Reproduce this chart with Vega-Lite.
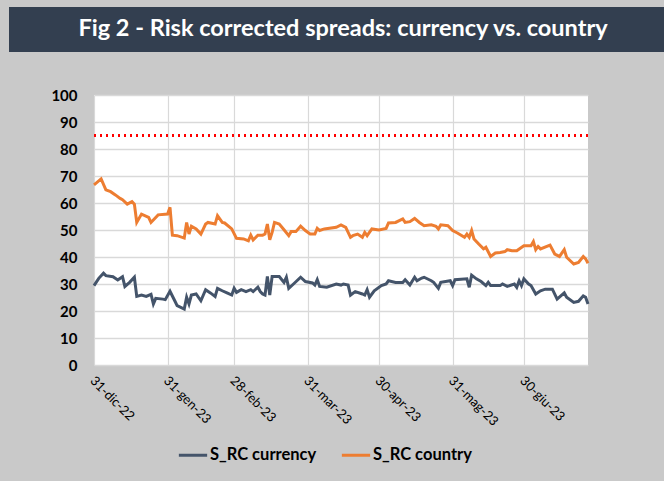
{
  "$schema": "https://vega.github.io/schema/vega-lite/v6.json",
  "background": "#c9c9c9",
  "padding": {"left": 9, "top": 7, "right": 0, "bottom": 19},
  "spacing": 36,
  "config": {"view": {"stroke": null}, "font": "Lato"},
  "datasets": {
    "rc": [
      {"date": "2022-12-31", "series": "S_RC country", "value": 66.7},
      {"date": "2023-01-03", "series": "S_RC country", "value": 68.9},
      {"date": "2023-01-05", "series": "S_RC country", "value": 64.9},
      {"date": "2023-01-07", "series": "S_RC country", "value": 64.2},
      {"date": "2023-01-09", "series": "S_RC country", "value": 63.0},
      {"date": "2023-01-11", "series": "S_RC country", "value": 61.7},
      {"date": "2023-01-12", "series": "S_RC country", "value": 61.2},
      {"date": "2023-01-14", "series": "S_RC country", "value": 59.6},
      {"date": "2023-01-16", "series": "S_RC country", "value": 60.5},
      {"date": "2023-01-17", "series": "S_RC country", "value": 59.6},
      {"date": "2023-01-18", "series": "S_RC country", "value": 52.8},
      {"date": "2023-01-20", "series": "S_RC country", "value": 55.9},
      {"date": "2023-01-23", "series": "S_RC country", "value": 54.7},
      {"date": "2023-01-24", "series": "S_RC country", "value": 52.8},
      {"date": "2023-01-27", "series": "S_RC country", "value": 55.6},
      {"date": "2023-01-31", "series": "S_RC country", "value": 55.9},
      {"date": "2023-02-01", "series": "S_RC country", "value": 58.4},
      {"date": "2023-02-02", "series": "S_RC country", "value": 48.1},
      {"date": "2023-02-04", "series": "S_RC country", "value": 47.9},
      {"date": "2023-02-07", "series": "S_RC country", "value": 47.0},
      {"date": "2023-02-08", "series": "S_RC country", "value": 52.8},
      {"date": "2023-02-09", "series": "S_RC country", "value": 48.5},
      {"date": "2023-02-10", "series": "S_RC country", "value": 51.4},
      {"date": "2023-02-12", "series": "S_RC country", "value": 50.4},
      {"date": "2023-02-14", "series": "S_RC country", "value": 48.5},
      {"date": "2023-02-16", "series": "S_RC country", "value": 52.2},
      {"date": "2023-02-17", "series": "S_RC country", "value": 52.8},
      {"date": "2023-02-20", "series": "S_RC country", "value": 52.2},
      {"date": "2023-02-21", "series": "S_RC country", "value": 55.3},
      {"date": "2023-02-23", "series": "S_RC country", "value": 52.8},
      {"date": "2023-02-24", "series": "S_RC country", "value": 52.6},
      {"date": "2023-02-27", "series": "S_RC country", "value": 50.4},
      {"date": "2023-03-01", "series": "S_RC country", "value": 46.9},
      {"date": "2023-03-04", "series": "S_RC country", "value": 46.7},
      {"date": "2023-03-06", "series": "S_RC country", "value": 46.0},
      {"date": "2023-03-07", "series": "S_RC country", "value": 48.1},
      {"date": "2023-03-08", "series": "S_RC country", "value": 46.3},
      {"date": "2023-03-10", "series": "S_RC country", "value": 48.1},
      {"date": "2023-03-12", "series": "S_RC country", "value": 48.1},
      {"date": "2023-03-13", "series": "S_RC country", "value": 48.5},
      {"date": "2023-03-14", "series": "S_RC country", "value": 52.2},
      {"date": "2023-03-15", "series": "S_RC country", "value": 46.4},
      {"date": "2023-03-16", "series": "S_RC country", "value": 49.1},
      {"date": "2023-03-17", "series": "S_RC country", "value": 52.8},
      {"date": "2023-03-19", "series": "S_RC country", "value": 52.2},
      {"date": "2023-03-21", "series": "S_RC country", "value": 50.1},
      {"date": "2023-03-23", "series": "S_RC country", "value": 47.9},
      {"date": "2023-03-24", "series": "S_RC country", "value": 49.4},
      {"date": "2023-03-26", "series": "S_RC country", "value": 49.4},
      {"date": "2023-03-28", "series": "S_RC country", "value": 51.4},
      {"date": "2023-03-30", "series": "S_RC country", "value": 49.8},
      {"date": "2023-04-01", "series": "S_RC country", "value": 48.5},
      {"date": "2023-04-03", "series": "S_RC country", "value": 48.5},
      {"date": "2023-04-04", "series": "S_RC country", "value": 50.6},
      {"date": "2023-04-05", "series": "S_RC country", "value": 49.8},
      {"date": "2023-04-07", "series": "S_RC country", "value": 50.4},
      {"date": "2023-04-12", "series": "S_RC country", "value": 51.0},
      {"date": "2023-04-14", "series": "S_RC country", "value": 51.9},
      {"date": "2023-04-16", "series": "S_RC country", "value": 51.0},
      {"date": "2023-04-18", "series": "S_RC country", "value": 47.3},
      {"date": "2023-04-19", "series": "S_RC country", "value": 47.9},
      {"date": "2023-04-21", "series": "S_RC country", "value": 48.5},
      {"date": "2023-04-23", "series": "S_RC country", "value": 47.3},
      {"date": "2023-04-24", "series": "S_RC country", "value": 49.1},
      {"date": "2023-04-25", "series": "S_RC country", "value": 47.9},
      {"date": "2023-04-27", "series": "S_RC country", "value": 50.4},
      {"date": "2023-04-30", "series": "S_RC country", "value": 50.0},
      {"date": "2023-05-03", "series": "S_RC country", "value": 50.6},
      {"date": "2023-05-04", "series": "S_RC country", "value": 52.6},
      {"date": "2023-05-07", "series": "S_RC country", "value": 52.8},
      {"date": "2023-05-10", "series": "S_RC country", "value": 54.1},
      {"date": "2023-05-11", "series": "S_RC country", "value": 52.8},
      {"date": "2023-05-13", "series": "S_RC country", "value": 53.1},
      {"date": "2023-05-15", "series": "S_RC country", "value": 54.3},
      {"date": "2023-05-17", "series": "S_RC country", "value": 52.8},
      {"date": "2023-05-19", "series": "S_RC country", "value": 51.6},
      {"date": "2023-05-22", "series": "S_RC country", "value": 51.9},
      {"date": "2023-05-24", "series": "S_RC country", "value": 51.4},
      {"date": "2023-05-25", "series": "S_RC country", "value": 50.4},
      {"date": "2023-05-26", "series": "S_RC country", "value": 51.9},
      {"date": "2023-05-29", "series": "S_RC country", "value": 51.6},
      {"date": "2023-05-31", "series": "S_RC country", "value": 49.8},
      {"date": "2023-06-02", "series": "S_RC country", "value": 48.9},
      {"date": "2023-06-05", "series": "S_RC country", "value": 47.3},
      {"date": "2023-06-06", "series": "S_RC country", "value": 48.5},
      {"date": "2023-06-07", "series": "S_RC country", "value": 47.3},
      {"date": "2023-06-08", "series": "S_RC country", "value": 49.8},
      {"date": "2023-06-09", "series": "S_RC country", "value": 46.7},
      {"date": "2023-06-11", "series": "S_RC country", "value": 44.8},
      {"date": "2023-06-13", "series": "S_RC country", "value": 43.0},
      {"date": "2023-06-14", "series": "S_RC country", "value": 43.6},
      {"date": "2023-06-16", "series": "S_RC country", "value": 40.2},
      {"date": "2023-06-18", "series": "S_RC country", "value": 41.5},
      {"date": "2023-06-20", "series": "S_RC country", "value": 41.7},
      {"date": "2023-06-22", "series": "S_RC country", "value": 42.0},
      {"date": "2023-06-23", "series": "S_RC country", "value": 42.7},
      {"date": "2023-06-25", "series": "S_RC country", "value": 42.3},
      {"date": "2023-06-27", "series": "S_RC country", "value": 42.3},
      {"date": "2023-06-30", "series": "S_RC country", "value": 44.2},
      {"date": "2023-07-03", "series": "S_RC country", "value": 44.2},
      {"date": "2023-07-04", "series": "S_RC country", "value": 45.7},
      {"date": "2023-07-05", "series": "S_RC country", "value": 42.7},
      {"date": "2023-07-06", "series": "S_RC country", "value": 43.9},
      {"date": "2023-07-07", "series": "S_RC country", "value": 43.0},
      {"date": "2023-07-11", "series": "S_RC country", "value": 44.4},
      {"date": "2023-07-13", "series": "S_RC country", "value": 41.1},
      {"date": "2023-07-15", "series": "S_RC country", "value": 40.2},
      {"date": "2023-07-17", "series": "S_RC country", "value": 42.7},
      {"date": "2023-07-18", "series": "S_RC country", "value": 39.9},
      {"date": "2023-07-21", "series": "S_RC country", "value": 37.4},
      {"date": "2023-07-23", "series": "S_RC country", "value": 38.0},
      {"date": "2023-07-25", "series": "S_RC country", "value": 40.2},
      {"date": "2023-07-26", "series": "S_RC country", "value": 39.3},
      {"date": "2023-07-27", "series": "S_RC country", "value": 37.7},
      {"date": "2022-12-31", "series": "S_RC currency", "value": 29.4},
      {"date": "2023-01-02", "series": "S_RC currency", "value": 32.1},
      {"date": "2023-01-04", "series": "S_RC currency", "value": 34.0},
      {"date": "2023-01-05", "series": "S_RC currency", "value": 33.1},
      {"date": "2023-01-08", "series": "S_RC currency", "value": 32.7},
      {"date": "2023-01-10", "series": "S_RC currency", "value": 31.5},
      {"date": "2023-01-12", "series": "S_RC currency", "value": 32.7},
      {"date": "2023-01-13", "series": "S_RC currency", "value": 29.1},
      {"date": "2023-01-15", "series": "S_RC currency", "value": 30.6},
      {"date": "2023-01-17", "series": "S_RC currency", "value": 32.5},
      {"date": "2023-01-18", "series": "S_RC currency", "value": 25.4},
      {"date": "2023-01-20", "series": "S_RC currency", "value": 25.9},
      {"date": "2023-01-22", "series": "S_RC currency", "value": 25.4},
      {"date": "2023-01-24", "series": "S_RC currency", "value": 26.2},
      {"date": "2023-01-25", "series": "S_RC currency", "value": 22.6},
      {"date": "2023-01-26", "series": "S_RC currency", "value": 24.7},
      {"date": "2023-01-29", "series": "S_RC currency", "value": 24.4},
      {"date": "2023-01-30", "series": "S_RC currency", "value": 24.2},
      {"date": "2023-02-01", "series": "S_RC currency", "value": 27.3},
      {"date": "2023-02-03", "series": "S_RC currency", "value": 23.8},
      {"date": "2023-02-04", "series": "S_RC currency", "value": 22.0},
      {"date": "2023-02-07", "series": "S_RC currency", "value": 20.7},
      {"date": "2023-02-08", "series": "S_RC currency", "value": 25.1},
      {"date": "2023-02-09", "series": "S_RC currency", "value": 22.6},
      {"date": "2023-02-10", "series": "S_RC currency", "value": 25.9},
      {"date": "2023-02-12", "series": "S_RC currency", "value": 26.3},
      {"date": "2023-02-14", "series": "S_RC currency", "value": 23.8},
      {"date": "2023-02-16", "series": "S_RC currency", "value": 27.9},
      {"date": "2023-02-18", "series": "S_RC currency", "value": 26.7},
      {"date": "2023-02-20", "series": "S_RC currency", "value": 25.4},
      {"date": "2023-02-21", "series": "S_RC currency", "value": 28.4},
      {"date": "2023-02-23", "series": "S_RC currency", "value": 27.5},
      {"date": "2023-02-25", "series": "S_RC currency", "value": 26.7},
      {"date": "2023-02-27", "series": "S_RC currency", "value": 25.9},
      {"date": "2023-02-28", "series": "S_RC currency", "value": 28.4},
      {"date": "2023-03-01", "series": "S_RC currency", "value": 26.9},
      {"date": "2023-03-03", "series": "S_RC currency", "value": 27.9},
      {"date": "2023-03-05", "series": "S_RC currency", "value": 27.2},
      {"date": "2023-03-07", "series": "S_RC currency", "value": 27.9},
      {"date": "2023-03-08", "series": "S_RC currency", "value": 27.2},
      {"date": "2023-03-10", "series": "S_RC currency", "value": 28.8},
      {"date": "2023-03-11", "series": "S_RC currency", "value": 27.2},
      {"date": "2023-03-12", "series": "S_RC currency", "value": 26.3},
      {"date": "2023-03-13", "series": "S_RC currency", "value": 25.9},
      {"date": "2023-03-14", "series": "S_RC currency", "value": 32.8},
      {"date": "2023-03-15", "series": "S_RC currency", "value": 25.9},
      {"date": "2023-03-16", "series": "S_RC currency", "value": 32.8},
      {"date": "2023-03-19", "series": "S_RC currency", "value": 32.8},
      {"date": "2023-03-21", "series": "S_RC currency", "value": 30.6},
      {"date": "2023-03-22", "series": "S_RC currency", "value": 32.5},
      {"date": "2023-03-23", "series": "S_RC currency", "value": 28.4},
      {"date": "2023-03-25", "series": "S_RC currency", "value": 30.0},
      {"date": "2023-03-28", "series": "S_RC currency", "value": 32.5},
      {"date": "2023-03-30", "series": "S_RC currency", "value": 30.9},
      {"date": "2023-04-02", "series": "S_RC currency", "value": 30.4},
      {"date": "2023-04-03", "series": "S_RC currency", "value": 29.6},
      {"date": "2023-04-04", "series": "S_RC currency", "value": 31.6},
      {"date": "2023-04-05", "series": "S_RC currency", "value": 29.1},
      {"date": "2023-04-08", "series": "S_RC currency", "value": 28.8},
      {"date": "2023-04-12", "series": "S_RC currency", "value": 30.0},
      {"date": "2023-04-14", "series": "S_RC currency", "value": 29.6},
      {"date": "2023-04-15", "series": "S_RC currency", "value": 30.0},
      {"date": "2023-04-17", "series": "S_RC currency", "value": 29.6},
      {"date": "2023-04-18", "series": "S_RC currency", "value": 25.9},
      {"date": "2023-04-20", "series": "S_RC currency", "value": 27.2},
      {"date": "2023-04-23", "series": "S_RC currency", "value": 26.3},
      {"date": "2023-04-24", "series": "S_RC currency", "value": 25.9},
      {"date": "2023-04-25", "series": "S_RC currency", "value": 27.9},
      {"date": "2023-04-26", "series": "S_RC currency", "value": 25.1},
      {"date": "2023-04-28", "series": "S_RC currency", "value": 27.5},
      {"date": "2023-05-01", "series": "S_RC currency", "value": 29.4},
      {"date": "2023-05-03", "series": "S_RC currency", "value": 30.0},
      {"date": "2023-05-04", "series": "S_RC currency", "value": 31.2},
      {"date": "2023-05-07", "series": "S_RC currency", "value": 30.6},
      {"date": "2023-05-10", "series": "S_RC currency", "value": 30.6},
      {"date": "2023-05-11", "series": "S_RC currency", "value": 31.6},
      {"date": "2023-05-13", "series": "S_RC currency", "value": 29.6},
      {"date": "2023-05-15", "series": "S_RC currency", "value": 32.5},
      {"date": "2023-05-16", "series": "S_RC currency", "value": 31.2},
      {"date": "2023-05-18", "series": "S_RC currency", "value": 32.2},
      {"date": "2023-05-19", "series": "S_RC currency", "value": 32.5},
      {"date": "2023-05-22", "series": "S_RC currency", "value": 31.2},
      {"date": "2023-05-23", "series": "S_RC currency", "value": 30.6},
      {"date": "2023-05-25", "series": "S_RC currency", "value": 28.4},
      {"date": "2023-05-26", "series": "S_RC currency", "value": 30.6},
      {"date": "2023-05-30", "series": "S_RC currency", "value": 31.2},
      {"date": "2023-05-31", "series": "S_RC currency", "value": 29.4},
      {"date": "2023-06-01", "series": "S_RC currency", "value": 31.6},
      {"date": "2023-06-06", "series": "S_RC currency", "value": 31.9},
      {"date": "2023-06-07", "series": "S_RC currency", "value": 28.8},
      {"date": "2023-06-08", "series": "S_RC currency", "value": 33.3},
      {"date": "2023-06-10", "series": "S_RC currency", "value": 31.9},
      {"date": "2023-06-12", "series": "S_RC currency", "value": 30.9},
      {"date": "2023-06-14", "series": "S_RC currency", "value": 29.4},
      {"date": "2023-06-15", "series": "S_RC currency", "value": 30.6},
      {"date": "2023-06-16", "series": "S_RC currency", "value": 29.4},
      {"date": "2023-06-20", "series": "S_RC currency", "value": 29.4},
      {"date": "2023-06-21", "series": "S_RC currency", "value": 30.0},
      {"date": "2023-06-23", "series": "S_RC currency", "value": 29.1},
      {"date": "2023-06-26", "series": "S_RC currency", "value": 30.0},
      {"date": "2023-06-27", "series": "S_RC currency", "value": 28.8},
      {"date": "2023-06-28", "series": "S_RC currency", "value": 31.2},
      {"date": "2023-06-29", "series": "S_RC currency", "value": 29.4},
      {"date": "2023-06-30", "series": "S_RC currency", "value": 31.9},
      {"date": "2023-07-02", "series": "S_RC currency", "value": 30.0},
      {"date": "2023-07-03", "series": "S_RC currency", "value": 29.4},
      {"date": "2023-07-05", "series": "S_RC currency", "value": 26.3},
      {"date": "2023-07-07", "series": "S_RC currency", "value": 27.5},
      {"date": "2023-07-09", "series": "S_RC currency", "value": 28.1},
      {"date": "2023-07-12", "series": "S_RC currency", "value": 28.1},
      {"date": "2023-07-14", "series": "S_RC currency", "value": 24.4},
      {"date": "2023-07-17", "series": "S_RC currency", "value": 26.7},
      {"date": "2023-07-18", "series": "S_RC currency", "value": 25.1},
      {"date": "2023-07-21", "series": "S_RC currency", "value": 23.2},
      {"date": "2023-07-23", "series": "S_RC currency", "value": 23.6},
      {"date": "2023-07-25", "series": "S_RC currency", "value": 25.6},
      {"date": "2023-07-26", "series": "S_RC currency", "value": 25.1},
      {"date": "2023-07-27", "series": "S_RC currency", "value": 22.6}
    ]
  },
  "vconcat": [
    {
      "width": 655,
      "height": 45,
      "view": {"fill": "#333f50", "stroke": null},
      "data": {"values": [{"t": "Fig 2 - Risk corrected spreads: currency vs. country"}]},
      "mark": {"type": "text", "font": "Lato", "fontWeight": "bold", "fontSize": 23.5, "color": "#ffffff", "align": "center", "baseline": "alphabetic"},
      "encoding": {
        "text": {"field": "t", "type": "nominal"},
        "x": {"datum": 0.51, "type": "quantitative", "scale": {"domain": [0, 1]}, "axis": null},
        "y": {"datum": 0.356, "type": "quantitative", "scale": {"domain": [0, 1]}, "axis": null}
      }
    },
    {
      "spacing": 0,
      "hconcat": [
        {
          "width": 1,
          "height": 1,
          "view": {"fill": null, "stroke": null},
          "data": {"values": []},
          "mark": "point"
        },
        {
          "width": 494,
          "height": 270,
          "view": {"fill": "#ffffff", "stroke": null},
          "data": {"name": "rc"},
          "layer": [
            {
              "mark": {"type": "line", "strokeWidth": 3},
              "encoding": {
                "x": {
                  "field": "date",
                  "type": "temporal",
                  "scale": {
                    "type": "utc",
                    "domain": [
                      {"year": 2022, "month": 12, "date": 31, "utc": true},
                      {"year": 2023, "month": 7, "date": 27, "utc": true}
                    ]
                  },
                  "axis": {
                    "title": null,
                    "values": [
                      {"year": 2022, "month": 12, "date": 31, "utc": true},
                      {"year": 2023, "month": 1, "date": 31, "utc": true},
                      {"year": 2023, "month": 2, "date": 28, "utc": true},
                      {"year": 2023, "month": 3, "date": 31, "utc": true},
                      {"year": 2023, "month": 4, "date": 30, "utc": true},
                      {"year": 2023, "month": 5, "date": 31, "utc": true},
                      {"year": 2023, "month": 6, "date": 30, "utc": true}
                    ],
                    "grid": true,
                    "gridColor": "#d9d9d9",
                    "gridWidth": 1.2,
                    "ticks": false,
                    "tickSize": 0,
                    "domain": false,
                    "labelAngle": 45,
                    "labelAlign": "left",
                    "labelBaseline": "top",
                    "labelPadding": 9,
                    "labelOffset": 2,
                    "labelFont": "Lato",
                    "labelFontSize": 13,
                    "labelColor": "#000000",
                    "labelOverlap": false,
                    "labelFlush": false,
                    "labelExpr": "utcFormat(datum.value, '%d') + '-' + ['gen','feb','mar','apr','mag','giu','lug','ago','set','ott','nov','dic'][utcmonth(datum.value)] + '-' + utcFormat(datum.value, '%y')"
                  }
                },
                "y": {
                  "field": "value",
                  "type": "quantitative",
                  "scale": {"domain": [0, 100], "nice": false},
                  "axis": {
                    "title": null,
                    "values": [0, 10, 20, 30, 40, 50, 60, 70, 80, 90, 100],
                    "grid": true,
                    "gridColor": "#d9d9d9",
                    "gridWidth": 1.5,
                    "ticks": false,
                    "tickSize": 0,
                    "domain": false,
                    "labelPadding": 17,
                    "labelFont": "Lato",
                    "labelFontSize": 15,
                    "labelFontWeight": "bold",
                    "labelColor": "#000000",
                    "labelOverlap": false,
                    "minExtent": 84
                  }
                },
                "color": {
                  "field": "series",
                  "type": "nominal",
                  "scale": {"domain": ["S_RC currency", "S_RC country"], "range": ["#44546a", "#ed7d31"]},
                  "legend": {
                    "title": null,
                    "orient": "none",
                    "legendX": 168,
                    "legendY": 432,
                    "direction": "horizontal",
                    "symbolType": "stroke",
                    "symbolStrokeWidth": 3,
                    "symbolSize": 800,
                    "labelFont": "Lato",
                    "labelFontSize": 16.5,
                    "labelFontWeight": "bold",
                    "labelColor": "#000000",
                    "labelOffset": 1,
                    "columnPadding": 18,
                    "padding": 0
                  }
                }
              }
            },
            {
              "mark": {"type": "rule", "color": "#ff0000", "strokeWidth": 2, "strokeDash": [2, 4]},
              "encoding": {
                "y": {
                  "datum": 85,
                  "type": "quantitative",
                  "axis": {
                    "title": null,
                    "values": [0, 10, 20, 30, 40, 50, 60, 70, 80, 90, 100],
                    "grid": true,
                    "gridColor": "#d9d9d9",
                    "gridWidth": 1.5,
                    "ticks": false,
                    "tickSize": 0,
                    "domain": false,
                    "labelPadding": 17,
                    "labelFont": "Lato",
                    "labelFontSize": 15,
                    "labelFontWeight": "bold",
                    "labelColor": "#000000",
                    "labelOverlap": false,
                    "minExtent": 84
                  }
                }
              }
            }
          ]
        }
      ]
    }
  ]
}
